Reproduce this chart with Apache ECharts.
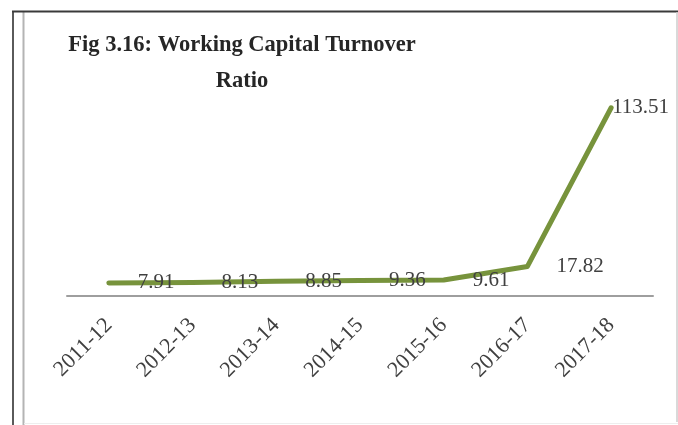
<!DOCTYPE html>
<html>
<head>
<meta charset="utf-8">
<script src="https://cdn.jsdelivr.net/npm/echarts@6/dist/echarts.min.js"></script>
<style>html,body{margin:0;padding:0;background:#fff}#c{width:678px;height:425px}</style>
</head>
<body>
<div id="c"></div>
<script>
const titleText = 'Fig 3.16: Working Capital Turnover\nRatio';
const categories = ['2011-12', '2012-13', '2013-14', '2014-15', '2015-16', '2016-17', '2017-18'];
const ratioValues = [7.91, 8.13, 8.85, 9.36, 9.61, 17.82, 113.51];

const chart = echarts.init(document.getElementById('c'));
const serif = '"Liberation Serif", "DejaVu Serif", serif';
const seriesData = ratioValues.map((v, i) => {
  const last = i === ratioValues.length - 1;
  return {
    value: v,
    label: { distance: last ? 0 : 28 }
  };
});
chart.setOption({
  animation: false,
  title: {
    text: titleText,
    left: 237,
    top: 22,
    textAlign: 'center',
    textStyle: { fontFamily: serif, fontWeight: 'bold', fontSize: 22.5, color: '#262626', lineHeight: 36 }
  },
  grid: { left: 67, right: 25, top: 97, bottom: 129, containLabel: false },
  xAxis: {
    type: 'category',
    data: categories,
    boundaryGap: true,
    axisLine: { lineStyle: { color: '#9e9e9e', width: 2 } },
    axisTick: { show: false },
    axisLabel: { rotate: 45, margin: 26, fontFamily: serif, fontSize: 22, color: '#404040', interval: 0 }
  },
  yAxis: {
    type: 'value', min: 0, max: 120, show: false,
    splitLine: { show: false }
  },
  series: [{
    type: 'line',
    data: seriesData,
    symbol: 'circle',
    symbolSize: 2,
    showSymbol: true,
    lineStyle: { color: '#77933C', width: 5, cap: 'round', join: 'round' },
    itemStyle: { color: '#77933C' },
    label: { show: true, position: 'right', fontFamily: serif, fontSize: 21, color: '#404040' }
  }],
  graphic: [
    { type: 'line', shape: { x1: 13, y1: 11, x2: 13, y2: 425 }, style: { stroke: '#5a5a5a', lineWidth: 2 }, silent: true },
    { type: 'line', shape: { x1: 23.5, y1: 12, x2: 23.5, y2: 425 }, style: { stroke: '#b4b4b4', lineWidth: 2 }, silent: true },
    { type: 'line', shape: { x1: 12, y1: 11.5, x2: 678, y2: 11.5 }, style: { stroke: '#3a3a3a', lineWidth: 2 }, silent: true },
    { type: 'line', shape: { x1: 677, y1: 12, x2: 677, y2: 422 }, style: { stroke: '#cccccc', lineWidth: 1.5 }, silent: true },
    { type: 'line', shape: { x1: 24, y1: 423.5, x2: 678, y2: 423.5 }, style: { stroke: '#eeeeee', lineWidth: 1 }, silent: true }
  ]
});
</script>
</body>
</html>
